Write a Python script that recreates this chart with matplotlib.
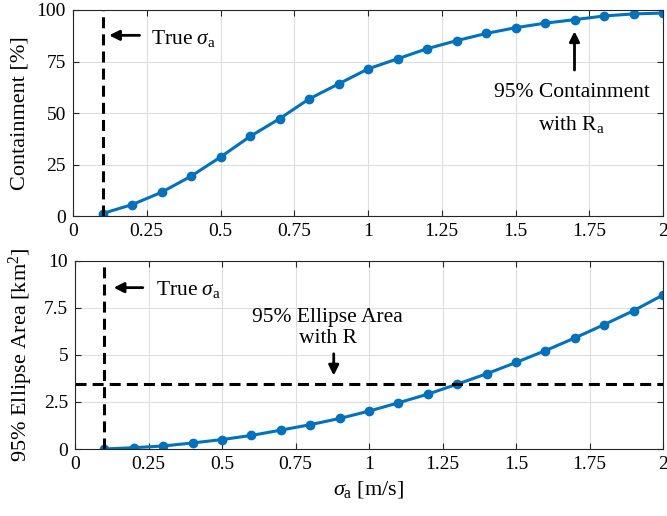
import matplotlib
matplotlib.use('Agg')
import matplotlib.pyplot as plt

plt.rcParams['font.family'] = 'Liberation Serif'
plt.rcParams['mathtext.fontset'] = 'custom'
plt.rcParams['mathtext.rm'] = 'Liberation Serif'
plt.rcParams['mathtext.it'] = 'Liberation Serif:italic'
plt.rcParams['font.size'] = 14

# data
sigma = [0.1, 0.2, 0.3, 0.4, 0.5, 0.6, 0.7, 0.8, 0.9, 1.0,
         1.1, 1.2, 1.3, 1.4, 1.5, 1.6, 1.7, 1.8, 1.9, 2.0]
containment = [1.2, 5.5, 11.5, 19.3, 28.6, 38.6, 47.2, 56.8, 64.1, 71.4,
               76.3, 81.2, 85.1, 88.6, 91.4, 93.6, 95.3, 97.1, 98.1, 98.5]
ellipse_area = [0.0, 0.07, 0.16, 0.32, 0.5, 0.72, 1.0, 1.29, 1.62, 2.01,
                2.45, 2.91, 3.44, 3.99, 4.59, 5.22, 5.89, 6.6, 7.34, 8.17]
true_sigma = 0.1
area_R = 3.46
xticks = [0, 0.25, 0.5, 0.75, 1, 1.25, 1.5, 1.75, 2]
xticklabels = ['0', '0.25', '0.5', '0.75', '1', '1.25', '1.5', '1.75', '2']
top_yticks = [0, 25, 50, 75, 100]
bot_yticks = [0, 2.5, 5, 7.5, 10]
bot_yticklabels = ['0', '2.5', '5', '7.5', '10']

blue = '#0072BD'
sig = r'$\sigma_{\rm a}$'
dash = (3.6, 2.0)
ann_fs = 15.5
lab_fs = 16
arrow = dict(arrowstyle='-|>', color='k', lw=2, mutation_scale=15)

fig = plt.figure(figsize=(6.67, 5.16), dpi=100)
ax1 = fig.add_axes([73/667, 1-216/516, 590/667, 206/516])
ax2 = fig.add_axes([75/667, 1-449/516, 588/667, 188.5/516])

for ax in (ax1, ax2):
    ax.set_xlim(0, 2)
    ax.set_xticks(xticks)
    ax.set_xticklabels(xticklabels)
    ax.grid(True, color='#dedede', linewidth=0.8)
    ax.set_axisbelow(True)
    ax.tick_params(direction='in', top=True, right=True, length=4, color='#262626',
                   labelsize=14, pad=5)
    for s in ax.spines.values():
        s.set_color('#262626')
        s.set_linewidth(0.8)

# top: containment
ax1.plot(sigma, containment, '-o', color=blue, lw=2.2, ms=6)
ax1.axvline(true_sigma, color='k', ls='--', lw=2.2, dashes=dash)
ax1.set_ylim(0, 100)
ax1.set_yticks(top_yticks)
ax1.set_ylabel('Containment [%]', fontsize=lab_fs)
ax1.yaxis.set_label_coords(-43/590, 0.5)
ax1.annotate('', xy=(0.113, 87.7), xytext=(0.235, 87.7), arrowprops=arrow)
ax1.text(0.265, 86, 'True ' + sig, fontsize=ann_fs, va='center', ha='left')
ax1.annotate('', xy=(1.7, 91), xytext=(1.7, 69.5), arrowprops=arrow)
ax1.text(1.69, 60, '95% Containment', fontsize=ann_fs, va='center', ha='center')
ax1.text(1.69, 44.5, r'with R$_{\rm a}$', fontsize=ann_fs, va='center', ha='center')

# bottom: ellipse area
ax2.plot(sigma, ellipse_area, '-o', color=blue, lw=2.2, ms=6)
ax2.axvline(true_sigma, color='k', ls='--', lw=2.2, dashes=dash)
ax2.axhline(area_R, color='k', ls='--', lw=2.2, dashes=dash)
ax2.set_ylim(0, 10)
ax2.set_yticks(bot_yticks)
ax2.set_yticklabels(bot_yticklabels)
ax2.set_ylabel(r'95% Ellipse Area [km$^2$]', fontsize=lab_fs)
ax2.yaxis.set_label_coords(-40/588, 0.5)
ax2.set_xlabel(r'$\sigma_{\rm a}$ [m/s]', fontsize=lab_fs)
ax2.annotate('', xy=(0.122, 8.56), xytext=(0.24, 8.56), arrowprops=arrow)
ax2.text(0.275, 8.45, 'True ' + sig, fontsize=ann_fs, va='center', ha='left')
ax2.text(0.86, 6.96, '95% Ellipse Area', fontsize=ann_fs, va='center', ha='center')
ax2.text(0.86, 5.85, 'with R', fontsize=ann_fs, va='center', ha='center')
ax2.annotate('', xy=(0.88, 3.75), xytext=(0.88, 5.2), arrowprops=arrow)

fig.savefig('out.png', dpi=100)
